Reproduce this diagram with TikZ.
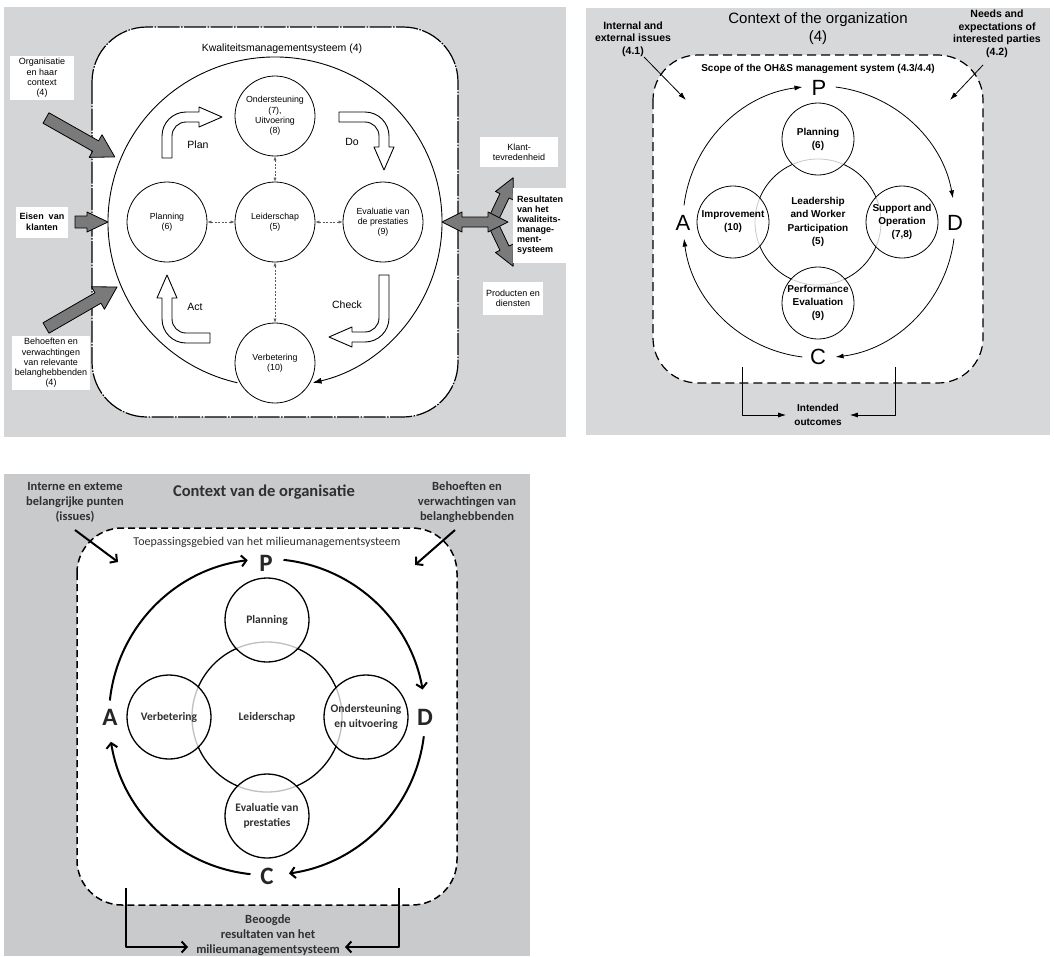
\documentclass[tikz,border=0pt]{standalone}
\usepackage{fontspec}
\setmainfont{Liberation Sans}
\newfontfamily\carl{Carlito}
\usetikzlibrary{arrows.meta,calc}
\definecolor{pgA}{HTML}{D4D5D7}
\definecolor{pgB}{HTML}{D7D8DA}
\definecolor{pgC}{HTML}{C9CACB}
\definecolor{blk}{HTML}{7A7A7A}
\definecolor{txtC}{HTML}{303030}
\newcommand\fsz[2]{\fontsize{#1}{#2}\selectfont}
\newcommand\bentarrow[2]{%
  \draw[blockw] (-24,#1) -- (-24,0) arc[start angle=180,end angle=270,radius=24]
    -- (#2,-24) -- (#2,-29) -- ({#2+23},-19) -- (#2,-9) -- (#2,-14) -- (0,-14)
    arc[start angle=270,end angle=180,radius=14] -- (-14,#1) -- cycle;}
\newcommand\blockarrow[4]{%
  \draw[blockg] (0,-#3) -- ({#1-#2},-#3) -- ({#1-#2},-#4) -- (#1,0)
    -- ({#1-#2},#4) -- ({#1-#2},#3) -- (0,#3) -- cycle;}
\begin{document}
\begin{tikzpicture}[x=1pt,y=-1pt,line join=round,
 p1c/.style={circle,draw,fill=white,line width=0.8pt,minimum size=80pt,inner sep=0pt,align=center,font=\fsz{8.8}{10.2}},
 p1t/.style={inner sep=0pt,align=center,font=\fsz{10.5}{12}},
 p1box/.style={fill=white,inner sep=0pt,align=center,font=\fsz{9}{10.3}},
 dasharr/.style={dash pattern=on 2pt off 1.5pt,draw=gray!70!black,line width=0.5pt,{Latex[length=4pt,width=3pt]}-{Latex[length=4pt,width=3pt]}},
 blockw/.style={draw,fill=white,line width=0.9pt},
 blockg/.style={draw,fill=blk,line width=0.8pt},
 p2c/.style={circle,draw,line width=0.8pt,fill=white,fill opacity=0.78,text opacity=1,minimum size=72pt,inner sep=0pt,align=center,font=\bfseries\fsz{10}{13}},
 p2l/.style={align=center,font=\bfseries\fsz{10.5}{12.5},inner sep=1pt},
 arr2/.style={line width=0.8pt,-{Latex[length=8pt,width=5pt]}},
 p3c/.style={circle,draw,line width=1.3pt,fill=white,fill opacity=0.75,text opacity=1,minimum size=84pt,inner sep=0pt,align=center,text=txtC,font=\carl\bfseries\fsz{11.5}{15}},
 p3l/.style={align=center,text=txtC,font=\carl\bfseries\fsz{12.5}{15},inner sep=1pt},
 arr3/.style={line width=2pt,-{Straight Barb[length=5pt,width=11pt]}},
 letter2/.style={font=\fsz{22}{22},inner sep=0pt},
 letter3/.style={font=\carl\bfseries\fsz{25}{25},inner sep=0pt,text=black!85}
]
\fill[white] (0,0) rectangle (1054,956);
\useasboundingbox (0,0) rectangle (1054,956);

% ================= Panel 1 =================
\fill[pgA] (4,7) rectangle (566,437);
\draw[line width=1.2pt,dash pattern=on 22pt off 1.5pt on 1.5pt off 1.5pt,fill=white,rounded corners=55pt] (92,27) rectangle (458,417);
\node[p1t] (t1) at (282,49) {Kwaliteitsmanagementsysteem (4)};
\draw[line width=0.9pt,-{Latex[length=9pt,width=6pt]}] ([shift={(103:167 and 165)}]275,222) arc[start angle=103,end angle=437,x radius=167,y radius=165];

\node[p1c] (on) at (275,116) {Ondersteuning\\(7),\\Uitvoering\\(8)};
\node[p1c] (lei) at (275,222) {Leiderschap\\(5)};
\node[p1c] (pla) at (167,222) {Planning\\(6)};
\node[p1c] (eva) at (383,222) {Evaluatie van\\de prestaties\\(9)};
\node[p1c] (ver) at (275,363) {Verbetering\\(10)};
\draw[dasharr] (on) -- (lei);
\draw[dasharr] (pla) -- (lei);
\draw[dasharr] (lei) -- (eva);
\draw[dasharr] (lei) -- (ver);

\begin{scope}[shift={(186,136)}]\bentarrow{22}{13}\end{scope}
\begin{scope}[shift={(365,136)},rotate=-90]\bentarrow{26}{11}\end{scope}
\begin{scope}[shift={(365,318)},rotate=180]\bentarrow{43}{13}\end{scope}
\begin{scope}[shift={(186,319)},rotate=90]\bentarrow{24}{21}\end{scope}
\node[p1t] (lplan) at (198,145) {Plan};
\node[p1t] (ldo) at (352,142) {Do};
\node[p1t] (lcheck) at (347,305) {Check};
\node[p1t] (lact) at (195,307) {Act};

\begin{scope}[shift={(46,118)},rotate=-29.5]\blockarrow{79}{22}{6}{13}\end{scope}
\begin{scope}[shift={(75,222)}]\blockarrow{33}{21}{6}{10}\end{scope}
\begin{scope}[shift={(46,328)},rotate=30]\blockarrow{82}{22}{6}{13}\end{scope}
\begin{scope}[shift={(492,222)},rotate=64.5]\blockarrow{49}{20}{5}{10}\end{scope}
\begin{scope}[shift={(492,222)},rotate=-64.5]\blockarrow{49}{20}{5}{10}\end{scope}
\draw[blockg] (442,222) -- (462,212) -- (462,217) -- (488,217) -- (488,212) -- (508,222)
  -- (488,232) -- (488,227) -- (462,227) -- (462,232) -- cycle;

\node[p1box,minimum width=64pt,minimum height=44pt] (org) at (42,78) {Organisatie\\en haar\\context\\(4)};
\node[p1box,minimum width=52pt,minimum height=31pt,font=\bfseries\fsz{9}{11}] (eis) at (42,222) {Eisen\ \ van\\klanten};
\node[p1box,minimum width=78pt,minimum height=54pt] (beh) at (51,363) {Behoeften en\\verwachtingen\\van relevante\\belanghebbenden\\(4)};
\node[p1box,minimum width=78pt,minimum height=30pt] (kla) at (519,152) {Klant-\\tevredenheid};
\node[fill=white,inner sep=0pt,minimum width=53pt,minimum height=75pt] (resb) at (539.5,225.5) {};
\node[align=left,anchor=west,inner sep=0pt,font=\bfseries\fsz{9}{10}] (res) at (517,225) {Resultaten\\van het\\kwaliteits-\\manage-\\ment-\\systeem};
\node[p1box,minimum width=60pt,minimum height=33pt] (pro) at (513,298) {Producten en\\diensten};

% ================= Panel 2 =================
\fill[pgB] (586,8) rectangle (1050,435);
\draw[line width=1.2pt,dash pattern=on 9pt off 5pt,fill=white,rounded corners=45pt] (653,55) rectangle (983,383);
\node[align=center,font=\fsz{15}{18},inner sep=0pt] (t2) at (818,29) {Context of the organization\\(4)};
\node[p2l] (l41) at (633,39) {Internal and\\external issues\\(4.1)};
\node[p2l] (l42) at (997,34) {Needs and\\expectations of\\interested parties\\(4.2)};
\node[font=\bfseries\fsz{10}{12},inner sep=0pt] (scope2) at (818,69) {Scope of the OH\&S management system (4.3/4.4)};
\coordinate (s41) at (644,57); \coordinate (e41) at (686,100);
\coordinate (s42) at (983,65); \coordinate (e42) at (950,100);
\draw[arr2] (s41) -- (e41);
\draw[arr2] (s42) -- (e42);

\node[circle,draw,line width=0.8pt,minimum size=126pt,inner sep=0pt,align=center,font=\bfseries\fsz{10}{13.5}] (lead2) at (818,222) {Leadership\\and Worker\\Participation\\(5)};
\node[p2c] (plan2) at (818,139) {Planning\\(6)};
\node[p2c] (imp2) at (733,222) {Improvement\\(10)};
\node[p2c] (sup2) at (902,222) {Support and\\Operation\\(7,8)};
\node[p2c] (perf2) at (818,303) {Performance\\Evaluation\\(9)};

\node[letter2] (P2) at (819,88) {P};
\node[letter2] (A2) at (683,223) {A};
\node[letter2] (D2) at (955,223) {D};
\node[letter2] (C2) at (818,357) {C};
\coordinate (c2) at (819,222);
\draw[arr2] ([shift={(187:136)}]c2) arc[start angle=187,end angle=263,radius=136];
\draw[arr2] ([shift={(277:136)}]c2) arc[start angle=277,end angle=350,radius=136];
\draw[arr2] ([shift={(7:136)}]c2) arc[start angle=7,end angle=83,radius=136];
\draw[arr2] ([shift={(97:136)}]c2) arc[start angle=97,end angle=173,radius=136];

\node[align=center,font=\bfseries\fsz{10}{14},inner ysep=1pt,inner xsep=8pt] (out2) at (818,415) {Intended\\outcomes};
\coordinate (ol2) at (742,367); \coordinate (or2) at (895,367);
\draw[arr2] (ol2) |- (out2.west);
\draw[arr2] (or2) |- (out2.east);

% ================= Panel 3 =================
\fill[pgC] (4,474) rectangle (530,956);
\draw[line width=1.5pt,dash pattern=on 7pt off 4pt,fill=white,rounded corners=45pt] (77,528) rectangle (457,905);
\node[font=\carl\bfseries\fsz{16.5}{18},text=txtC,inner sep=0pt] (t3) at (264,492) {Context van de organisatie};
\node[p3l] (int3) at (75,502) {Interne en exteme\\belangrijke punten\\(issues)};
\node[p3l] (beh3) at (467,502) {Behoeften en\\verwachtingen van\\belanghebbenden};
\node[font=\carl\fsz{12}{14},text=txtC,inner sep=0pt] (toe3) at (267,542) {Toepassingsgebied van het milieumanagementsysteem};
\coordinate (s3a) at (75,530); \coordinate (e3a) at (118,562);
\coordinate (s3b) at (455,530); \coordinate (e3b) at (415,565);
\draw[arr3] (s3a) -- (e3a);
\draw[arr3] (s3b) -- (e3b);

\node[circle,draw,line width=1.3pt,minimum size=150pt,inner sep=0pt,text=txtC,font=\carl\bfseries\fsz{11.5}{15}] (lead3) at (267,717) {Leiderschap};
\node[p3c] (plan3) at (267,620) {Planning};
\node[p3c] (ver3) at (169,717) {Verbetering};
\node[p3c] (ond3) at (366,717) {Ondersteuning\\en uitvoering};
\node[p3c] (eva3) at (267,816) {Evaluatie van\\prestaties};

\node[letter3] (P3) at (266,563) {P};
\node[letter3] (A3) at (110,717) {A};
\node[letter3] (D3) at (425,717) {D};
\node[letter3] (C3) at (267,876) {C};
\coordinate (c3) at (267,717);
\draw[arr3] ([shift={(186:158)}]c3) arc[start angle=186,end angle=263,radius=158];
\draw[arr3] ([shift={(276:158)}]c3) arc[start angle=276,end angle=350,radius=158];
\draw[arr3] ([shift={(7:158)}]c3) arc[start angle=7,end angle=82,radius=158];
\draw[arr3] ([shift={(96:158)}]c3) arc[start angle=96,end angle=171,radius=158];

\node[p3l] (beo3) at (268,935) {Beoogde\\resultaten van het\\milieumanagementsysteem};
\coordinate (bl3) at (126,888); \coordinate (bl3e) at (188,947);
\coordinate (br3) at (399,888); \coordinate (br3e) at (345,947);
\draw[arr3] (bl3) |- (bl3e);
\draw[arr3] (br3) |- (br3e);
\end{tikzpicture}
\end{document}
